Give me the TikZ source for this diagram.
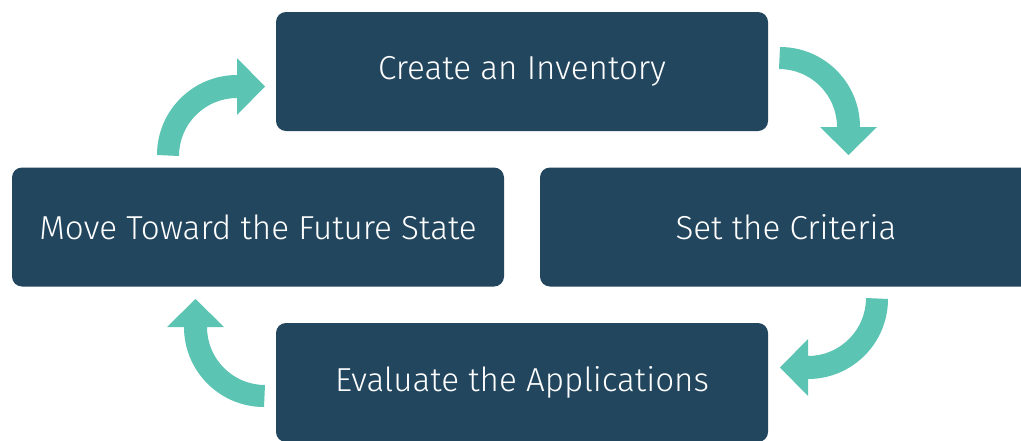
\documentclass[tikz,border=0pt]{standalone}
\usepackage{fontspec}
\IfFontExistsTF{Fira Sans Light}{\setmainfont{Fira Sans Light}}{\setmainfont{Fira Sans}}
\usetikzlibrary{calc}
\definecolor{boxblue}{HTML}{22465E}
\definecolor{arrteal}{HTML}{5BC4B3}
\begin{document}
\begin{tikzpicture}[x=1pt,y=-1pt,
  stagebox/.style={fill=boxblue, rounded corners=10pt, minimum width=492pt, minimum height=119pt,
    inner sep=0pt, text=white, font=\fontsize{33.2}{38}\selectfont},
  cyclearrow/.style={fill=arrteal, draw=none}]
\useasboundingbox (0,0) rectangle (1021,440);
\clip (0,0) rectangle (1021,440);
\fill[white] (0,0) rectangle (1021,440);
\node[stagebox] (inv) at (522,71.5) {\raisebox{-1.5pt}{Create an Inventory}};
\node[stagebox] (crit) at (786,227) {\raisebox{-1.5pt}{Set the Criteria}};
\node[stagebox] (eval) at (522,382.5) {\raisebox{-1.5pt}{Evaluate the Applications}};
\node[stagebox] (move) at (258,227) {\raisebox{-1.5pt}{Move Toward the Future State}};
% arrow: inventory -> criteria
\coordinate (c1) at (780,127);
\fill[cyclearrow] ($(c1)+(0,-80)$) arc[start angle=-90, end angle=0, radius=80] -- ++(17,0) -- ++(-28.5,28) -- ++(-28.5,-28) -- ++(17,0) arc[start angle=0, end angle=-90, radius=58] -- cycle;
% arrow: criteria -> evaluate
\coordinate (c2) at (808,299);
\fill[cyclearrow] ($(c2)+(80,0)$) arc[start angle=0, end angle=90, radius=80] -- ++(0,17) -- ++(-28,-28.5) -- ++(28,-28.5) -- ++(0,17) arc[start angle=90, end angle=0, radius=58] -- cycle;
% arrow: evaluate -> move
\coordinate (c4) at (264,327);
\fill[cyclearrow] ($(c4)+(0,80)$) arc[start angle=90, end angle=180, radius=80] -- ++(-17,0) -- ++(28.5,-28) -- ++(28.5,28) -- ++(-17,0) arc[start angle=180, end angle=90, radius=58] -- cycle;
% arrow: move -> inventory
\coordinate (c3) at (237,155);
\fill[cyclearrow] ($(c3)+(-80,0)$) arc[start angle=180, end angle=270, radius=80] -- ++(0,-17) -- ++(28,28.5) -- ++(-28,28.5) -- ++(0,-17) arc[start angle=270, end angle=180, radius=58] -- cycle;
\end{tikzpicture}
\end{document}
